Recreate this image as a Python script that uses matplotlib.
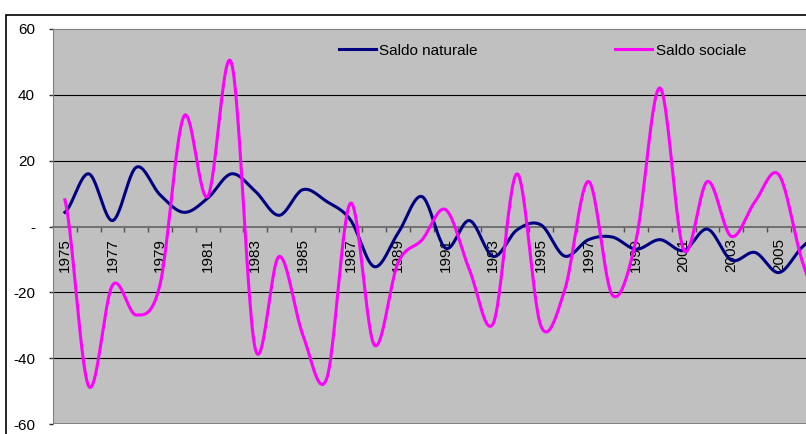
import matplotlib
matplotlib.use("Agg")
import matplotlib.pyplot as plt
import numpy as np
from matplotlib.patches import Rectangle

# dati
anni = list(range(1975, 2008))
naturale = [4.3, 16, 1.8, 18, 9.6, 4.3, 8.6, 16, 10.7, 3.4, 11.2, 7.6, 2.0, -12.2,
            -2.0, 9.1, -6.6, 1.8, -9.1, -1.0, 0.5, -9, -4, -3.2, -6.9, -4, -7.3,
            -0.8, -10.2, -7.9, -14, -6.1, -1]
sociale = [8.1, -48.5, -17.8, -26.9, -17.5, 33.5, 9.1, 49.7, -37.2, -9.1, -33,
           -46.2, 7.1, -36, -11, -4.1, 5.1, -13.2, -29.4, 16, -30.2, -19.3, 13.7,
           -20.8, -4, 42.1, -7.1, 13.7, -3, 7.6, 15.7, -11, -28]
y_ticks = [-60, -40, -20, 0, 20, 40, 60]
y_labels = ["-60", "-40", "-20", "-", "20", "40", "60"]


# linea smussata tipo excel (catmull-rom)
def smooth(vals, n=24):
    p = np.array(vals, dtype=float)
    p = np.concatenate([[p[0]], p, [p[-1]]])
    xs, ys = [], []
    for i in range(1, len(p) - 2):
        t = np.linspace(0, 1, n, endpoint=False)
        p0, p1, p2, p3 = p[i - 1], p[i], p[i + 1], p[i + 2]
        y = 0.5 * (2 * p1 + (-p0 + p2) * t + (2 * p0 - 5 * p1 + 4 * p2 - p3) * t ** 2
                   + (-p0 + 3 * p1 - 3 * p2 + p3) * t ** 3)
        xs.extend(i - 1 + t)
        ys.extend(y)
    xs.append(len(vals) - 1)
    ys.append(vals[-1])
    return np.array(xs), np.array(ys)


plt.rcParams["font.family"] = ["Liberation Sans", "DejaVu Sans"]
fig = plt.figure(figsize=(8.06, 4.34), dpi=100)
W, H = 806, 434
ax = fig.add_axes([53 / W, 10 / H, 33 * 23.8 / W, 395 / H])
ax.set_facecolor("#C0C0C0")

for v in [-40, -20, 20, 40]:
    ax.axhline(v, color="black", lw=0.8, zorder=1)

xn, yn = smooth(naturale)
xs, ys = smooth(sociale)
ax.plot(xn, yn, color="#000080", lw=2.2, label="Saldo naturale", zorder=3)
ax.plot(xs, ys, color="#FF00FF", lw=2.2, label="Saldo sociale", zorder=3)

ax.set_xlim(-0.5, len(anni) - 0.5)
ax.set_ylim(-60, 60)

# assi
ax.spines["bottom"].set_position(("data", 0))
ax.spines["bottom"].set_color("#707070")
ax.spines["bottom"].set_linewidth(1.4)
ax.spines["left"].set_color("#808080")
ax.spines["top"].set_color("#808080")
ax.spines["right"].set_visible(False)
ax.axhline(-60, color="#808080", lw=1.4, zorder=2)

# etichette ogni due anni (fino al 2005, il resto esce dall'immagine)
ax.set_xticks(range(0, len(anni) - 2, 2))
ax.set_xticklabels([str(a) for a in anni[:-2:2]], rotation=90, fontsize=11, va="top")
ax.set_xticks(np.arange(0.5, len(anni), 1), minor=True)
ax.tick_params(axis="x", which="major", length=0, pad=8.5)
ax.tick_params(axis="x", which="minor", length=3.6, width=1, color="#505050", direction="out")

ax.set_yticks(y_ticks)
ax.set_yticklabels(y_labels, fontsize=11)
ax.tick_params(axis="y", length=3, width=1, color="#303030", pad=10)

leg = ax.legend(loc="center left", bbox_to_anchor=(339 / W, 1 - 50.7 / H),
                bbox_transform=fig.transFigure, ncol=2, frameon=False,
                fontsize=11, handlelength=2.4, handletextpad=0.25,
                columnspacing=9.0, borderpad=0, borderaxespad=0)

# cornice esterna del grafico
fig.patches.append(Rectangle((6 / W, -0.1), 1.2, 1 - 15 / H + 0.1,
                             transform=fig.transFigure, fill=False,
                             edgecolor="black", lw=1.2))

fig.savefig("out.png", dpi=100)
